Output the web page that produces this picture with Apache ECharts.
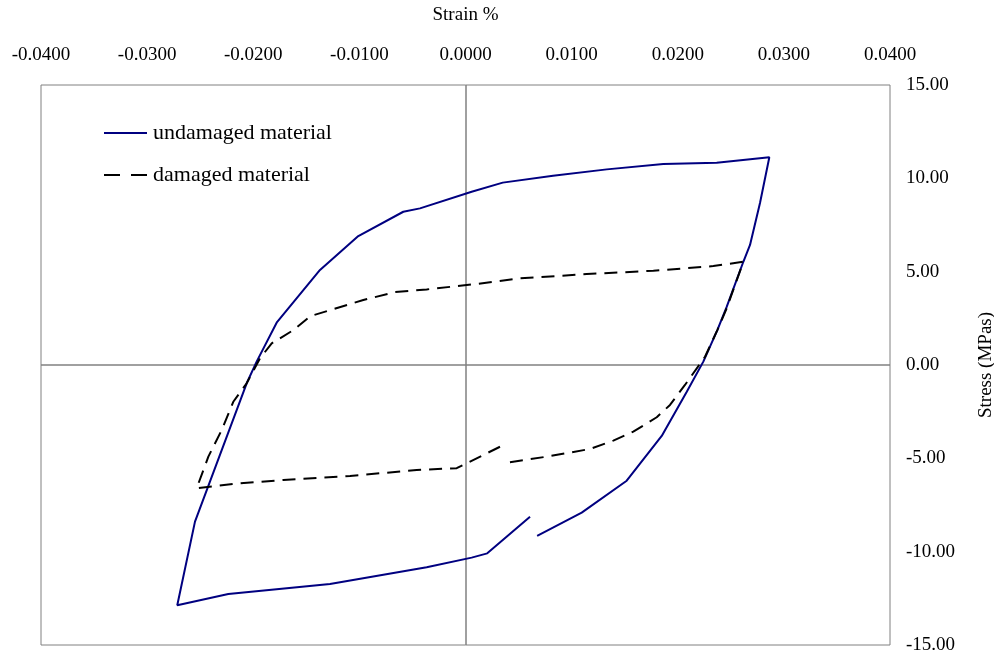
<!DOCTYPE html>
<html>
<head>
<meta charset="utf-8">
<script src="https://cdn.jsdelivr.net/npm/echarts@6/dist/echarts.min.js"></script>
<style>
  html, body { margin: 0; padding: 0; background: #ffffff; overflow: hidden; }
  #chart { width: 994px; height: 660px; }
</style>
</head>
<body>
<div id="chart"></div>
<script>
// Hysteresis loops: strain (%) vs stress (MPas)
const undamagedStrain = [
  0.00675, 0.01095, 0.01519, 0.01849, 0.02085, 0.02241, 0.02373, 0.02461, 0.02618, 0.02681,
  0.02775, 0.02863, 0.02367, 0.01864, 0.01331, 0.00825, 0.00351, 0.00058, -0.00429, -0.00586,
  -0.01010, -0.01371, -0.01776, -0.01968, -0.02062, -0.02549, -0.02716, -0.02235, -0.01277, -0.00366,
  0.00058, 0.00205, 0.00608
];
const undamagedStress = [
  -9.16, -7.91, -6.20, -3.80, -1.43, 0.18, 1.87, 3.11, 5.53, 6.43,
  8.68, 11.13, 10.84, 10.77, 10.48, 10.14, 9.77, 9.28, 8.39, 8.21,
  6.91, 5.09, 2.30, 0.18, -0.98, -8.39, -12.87, -12.27, -11.73, -10.84,
  -10.32, -10.09, -8.13
];
const damagedStrain = [
  0.00419, 0.00765, 0.01173, 0.01393, 0.01581, 0.01802, 0.01927, 0.02068, 0.02257, 0.02373,
  0.02455, 0.02618, 0.02335, 0.01770, 0.01142, 0.00514, 0.00073, -0.00366, -0.00664, -0.00963,
  -0.01461, -0.01622, -0.01826, -0.01936, -0.02062, -0.02188, -0.02297, -0.02423, -0.02533, -0.02188,
  -0.01717, -0.01088, -0.00460, -0.00083, 0.00325
];
const damagedStress = [
  -5.21, -4.91, -4.50, -4.05, -3.57, -2.80, -2.14, -1.07, 0.44, 1.87,
  2.95, 5.53, 5.30, 5.05, 4.87, 4.64, 4.32, 4.05, 3.91, 3.48,
  2.62, 1.87, 1.16, 0.36, -0.98, -1.97, -3.48, -4.91, -6.60, -6.37,
  -6.16, -5.95, -5.62, -5.53, -4.38
];
const seriesNames = ['undamaged material', 'damaged material'];
const strainTicks = { min: -0.04, max: 0.04, step: 0.01 };
const stressTicks = { min: -15, max: 15, step: 5 };

const pairs = (xs, ys) => xs.map((x, i) => [x, ys[i]]);
const serif = '"Liberation Serif", "Times New Roman", serif';

const chart = echarts.init(document.getElementById('chart'), null, { renderer: 'canvas' });
chart.setOption({
  animation: false,
  backgroundColor: '#ffffff',
  grid: {
    left: 41, right: 104, top: 85, bottom: 15,
    outerBoundsMode: 'none',
    containLabel: false,
    show: true, borderColor: '#808080', borderWidth: 1, backgroundColor: 'transparent'
  },
  legend: {
    orient: 'vertical',
    left: 103, top: 122,
    padding: 0,
    itemWidth: 43, itemHeight: 14, itemGap: 20,
    itemStyle: { opacity: 0 },
    textStyle: { fontFamily: serif, fontSize: 22, color: '#000000', padding: [0, 0, 0, 1] },
    data: [
      { name: seriesNames[0] },
      { name: seriesNames[1], lineStyle: { type: [16, 11] } }
    ]
  },
  xAxis: {
    type: 'value',
    position: 'top',
    min: strainTicks.min, max: strainTicks.max, interval: strainTicks.step,
    name: 'Strain %',
    nameLocation: 'middle',
    nameGap: 60,
    nameTextStyle: { fontFamily: serif, fontSize: 19, color: '#000000' },
    axisLine: { show: false },
    axisTick: { show: false },
    splitLine: { show: false },
    axisLabel: {
      margin: 20,
      fontFamily: serif, fontSize: 19, color: '#000000',
      formatter: v => v.toFixed(4)
    }
  },
  yAxis: {
    type: 'value',
    position: 'right',
    min: stressTicks.min, max: stressTicks.max, interval: stressTicks.step,
    name: 'Stress (MPas)',
    nameLocation: 'middle',
    nameRotate: 90,
    nameGap: 87,
    nameTextStyle: { fontFamily: serif, fontSize: 19, color: '#000000' },
    axisLine: { show: false },
    axisTick: { show: false },
    splitLine: { show: false },
    axisLabel: {
      margin: 16,
      fontFamily: serif, fontSize: 19, color: '#000000',
      formatter: v => v.toFixed(2)
    }
  },
  series: [
    {
      name: seriesNames[0],
      type: 'line',
      data: pairs(undamagedStrain, undamagedStress),
      symbol: 'none',
      lineStyle: { color: '#000080', width: 2 },
      itemStyle: { color: '#000080' },
      z: 3,
      markLine: {
        silent: true,
        symbol: 'none',
        label: { show: false },
        lineStyle: { color: '#808080', width: 1.5, type: 'solid' },
        data: [{ xAxis: 0 }, { yAxis: 0 }],
        z: 1
      }
    },
    {
      name: seriesNames[1],
      type: 'line',
      data: pairs(damagedStrain, damagedStress),
      symbol: 'none',
      lineStyle: { color: '#000000', width: 2, type: [13, 8] },
      itemStyle: { color: '#000000' },
      z: 4
    }
  ]
});
</script>
</body>
</html>
